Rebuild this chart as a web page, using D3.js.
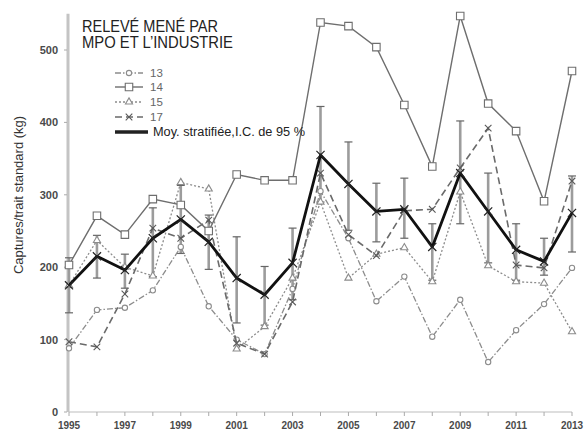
<!DOCTYPE html>
<meta charset="utf-8">
<style>
body { margin: 0; background: #fff; }
svg { display: block; font-family: "Liberation Sans", Arial, sans-serif; }
.tick-y, .tick-x { font-weight: bold; fill: #4a4a4a; }
</style>
<svg width="585" height="430"></svg>
<script src="https://d3js.org/d3.v7.min.js"></script>
<script>

var years = [1995,1996,1997,1998,1999,2000,2001,2002,2003,2004,2005,2006,2007,2008,2009,2010,2011,2012,2013];
var s13 = [88,141,144,168,228,146,100,80,170,305,240,153,187,104,155,69,113,149,199];
var s14 = [203,271,245,294,286,250,328,320,320,538,533,504,424,339,547,426,388,291,471];
var s15 = [175,237,200,188,317,308,87,118,185,290,185,218,227,180,304,202,180,178,111];
var s17 = [97,90,163,254,240,265,95,80,152,330,245,216,278,280,337,392,203,199,319];
var moy = [175,215,196,240,266,235,185,162,206,355,315,277,280,228,330,277,224,208,275];
var ciLow = [137,185,171,187,219,197,123,120,155,290,251,235,240,182,260,206,182,189,221];
var ciHigh = [213,244,218,282,313,272,242,201,254,422,373,316,323,260,402,330,260,240,326];
var yTicks = [0,100,200,300,400,500];
var xLabels = [1995,1997,1999,2001,2003,2005,2007,2009,2011,2013];
var legendNames = ["13","14","15","17","Moy. stratifiée,I.C. de 95 %"];

var svg = d3.select("svg");
var x = d3.scaleLinear().domain([1995, 2013]).range([69, 572]);
var y = d3.scaleLinear().domain([0, 550]).range([412, 13.8]);

var symX = d3.symbolX || d3.symbolTimes || d3.symbolCross;

var styles = {
  "13": {data: s13, stroke: "#8c8c8c", width: 1.3, dash: "6,2,1.5,2", sym: d3.symbolCircle, size: 22, mk: "#8c8c8c"},
  "14": {data: s14, stroke: "#6e6e6e", width: 1.4, dash: null, sym: d3.symbolSquare, size: 56, mk: "#6e6e6e"},
  "15": {data: s15, stroke: "#8c8c8c", width: 1.3, dash: "2,2", sym: d3.symbolTriangle, size: 22, mk: "#8c8c8c"},
  "17": {data: s17, stroke: "#6a6a6a", width: 1.6, dash: "7,4", sym: symX, size: 30, mk: "#5a5a5a"}
};

// axes
svg.append("line").attr("x1", x(1995)).attr("x2", x(2013)).attr("y1", y(0)).attr("y2", y(0))
  .attr("stroke", "#bdbdbd").attr("stroke-width", 1.2);
svg.selectAll(".xt").data(years).enter().append("line")
  .attr("x1", function(d) { return x(d); }).attr("x2", function(d) { return x(d); })
  .attr("y1", y(0)).attr("y2", y(0) + 4).attr("stroke", "#aaa");
svg.append("line").attr("x1", 68).attr("x2", 68).attr("y1", y(550)).attr("y2", y(0))
  .attr("stroke", "#c4c4c4").attr("stroke-width", 3);
svg.selectAll(".yt").data(yTicks).enter().append("line")
  .attr("x1", 64).attr("x2", 67).attr("y1", function(d) { return y(d); }).attr("y2", function(d) { return y(d); })
  .attr("stroke", "#aaa");
svg.selectAll(".tick-y").data(yTicks).enter().append("text").attr("class", "tick-y")
  .attr("x", 58).attr("y", function(d) { return y(d) + 4; })
  .attr("text-anchor", "end").style("font-size", "11px").text(function(d) { return d; });
svg.selectAll(".tick-x").data(xLabels).enter().append("text").attr("class", "tick-x")
  .attr("x", function(d) { return x(d); }).attr("y", 429)
  .attr("text-anchor", "middle").style("font-size", "10px").text(function(d) { return d; });

svg.append("text").attr("transform", "translate(23,195) rotate(-90)")
  .attr("text-anchor", "middle").style("font-size", "13px").attr("fill", "#333")
  .text("Captures/trait standard (kg)");

// title
svg.append("text").attr("x", 82).attr("y", 32).style("font-size", "16px").attr("fill", "#222")
  .attr("textLength", 136).attr("lengthAdjust", "spacingAndGlyphs").text("RELEVÉ MENÉ PAR");
svg.append("text").attr("x", 82).attr("y", 48).style("font-size", "16px").attr("fill", "#222")
  .attr("textLength", 151).attr("lengthAdjust", "spacingAndGlyphs").text("MPO ET L\u2019INDUSTRIE");

// error bars
var ci = years.map(function(d, i) { return {year: d, lo: ciLow[i], hi: ciHigh[i]}; });
var eb = svg.append("g");
eb.selectAll(".bar").data(ci).enter().append("line")
  .attr("x1", function(d) { return x(d.year); }).attr("x2", function(d) { return x(d.year); })
  .attr("y1", function(d) { return y(d.lo); }).attr("y2", function(d) { return y(d.hi); })
  .attr("stroke", "#9c9c9c").attr("stroke-width", 2.6);
["lo", "hi"].forEach(function(k) {
  eb.selectAll(".cap-" + k).data(ci).enter().append("line")
    .attr("x1", function(d) { return x(d.year) - 4; }).attr("x2", function(d) { return x(d.year) + 4; })
    .attr("y1", function(d) { return y(d[k]); }).attr("y2", function(d) { return y(d[k]); })
    .attr("stroke", "#666").attr("stroke-width", 1.2);
});

var line = d3.line().x(function(d) { return x(d.year); }).y(function(d) { return y(d.v); });

function drawSeries(name) {
  var s = styles[name];
  var pts = years.map(function(d, i) { return {year: d, v: s.data[i]}; });
  var g = svg.append("g");
  g.append("path").datum(pts).attr("d", line).attr("fill", "none")
    .attr("stroke", s.stroke).attr("stroke-width", s.width).attr("stroke-dasharray", s.dash);
  g.selectAll("path.m").data(pts).enter().append("path").attr("class", "m")
    .attr("transform", function(d) { return "translate(" + x(d.year) + "," + y(d.v) + ")"; })
    .attr("d", d3.symbol().type(s.sym).size(s.size))
    .attr("fill", s.sym === symX ? "none" : "#fff").attr("stroke", s.mk).attr("stroke-width", 1.1);
}
["13", "15", "17", "14"].forEach(drawSeries);

// stratified mean
var mpts = years.map(function(d, i) { return {year: d, v: moy[i]}; });
svg.append("path").datum(mpts).attr("d", line).attr("fill", "none")
  .attr("stroke", "#111").attr("stroke-width", 2.8).attr("stroke-linejoin", "round");
svg.selectAll(".mm").data(mpts).enter().append("path")
  .attr("transform", function(d) { return "translate(" + x(d.year) + "," + y(d.v) + ")"; })
  .attr("d", d3.symbol().type(symX).size(45)).attr("fill", "none").attr("stroke", "#222").attr("stroke-width", 1.2);

// legend
var lg = svg.append("g");
var rows = [73, 87, 102, 117, 132];
["13", "14", "15", "17"].forEach(function(name, i) {
  var s = styles[name];
  lg.append("line").attr("x1", 115).attr("x2", 143).attr("y1", rows[i]).attr("y2", rows[i])
    .attr("stroke", s.stroke).attr("stroke-width", s.width).attr("stroke-dasharray", s.dash);
  lg.append("path").attr("transform", "translate(129," + rows[i] + ")")
    .attr("d", d3.symbol().type(s.sym).size(s.size))
    .attr("fill", s.sym === symX ? "none" : "#fff").attr("stroke", s.mk).attr("stroke-width", 1.1);
  lg.append("text").attr("x", 150).attr("y", rows[i] + 4).style("font-size", "11.5px")
    .attr("fill", "#666").text(legendNames[i]);
});
lg.append("line").attr("x1", 115).attr("x2", 148).attr("y1", rows[4]).attr("y2", rows[4])
  .attr("stroke", "#222").attr("stroke-width", 3.5);
lg.append("text").attr("x", 153).attr("y", rows[4] + 4).style("font-size", "12px")
  .attr("fill", "#222").attr("textLength", 152).attr("lengthAdjust", "spacingAndGlyphs")
  .text(legendNames[4]);

</script>
